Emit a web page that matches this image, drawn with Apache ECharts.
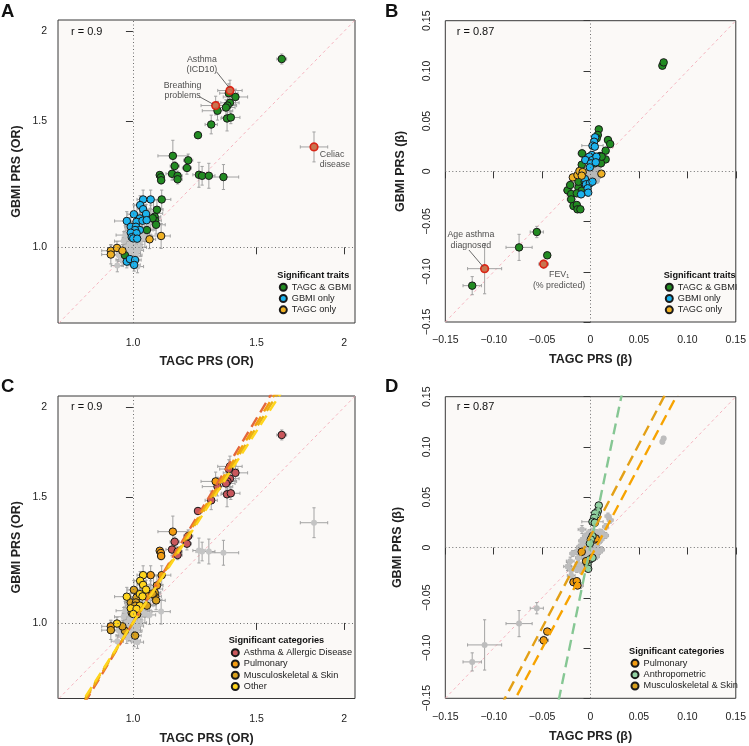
<!DOCTYPE html>
<html><head><meta charset="utf-8">
<script src="https://cdn.jsdelivr.net/npm/echarts@6/dist/echarts.min.js"></script>
<style>html,body{margin:0;padding:0;background:#fff}#c{width:749px;height:746px}</style>
</head><body><div id="c"></div>
<script>
const FONT = '"Liberation Sans", Arial, Helvetica, sans-serif';

// ---------- tick labels ----------
const orTicks = [1.0, 1.5, 2];
const orTickLabels = ['1.0', '1.5', '2'];
const betaTicks = [-0.15, -0.10, -0.05, 0, 0.05, 0.10, 0.15];
const betaTickLabels = ['\u22120.15', '\u22120.10', '\u22120.05', '0', '0.05', '0.10', '0.15'];

// ---------- legend names ----------
const traitNames = ['TAGC & GBMI', 'GBMI only', 'TAGC only'];
const catNamesC = ['Asthma & Allergic Disease', 'Pulmonary', 'Musculoskeletal & Skin', 'Other'];
const catNamesD = ['Pulmonary', 'Anthropometric', 'Musculoskeletal & Skin'];

// ---------- panels A / C : [TAGC OR, GBMI OR, CI half-width x (log), CI half-width y (log), category (1..4 of catNamesC, 0 none), highlighted]
const orBoth = [
  [1.63, 1.83, 0.016, 0.016, 1, 0],
  [1.375, 1.654, 0.04, 0.033, 1, 1],
  [1.312, 1.576, 0.048, 0.03, 2, 1],
  [1.812, 1.38, 0.045, 0.048, 0, 1],
  [1.37, 1.64, 0.03, 0.03, 1, 0],
  [1.40, 1.62, 0.04, 0.025, 1, 0],
  [1.375, 1.59, 0.03, 0.03, 1, 0],
  [1.364, 1.576, 0.03, 0.03, 1, 0],
  [1.357, 1.566, 0.03, 0.025, 1, 0],
  [1.32, 1.55, 0.05, 0.03, 1, 0],
  [1.362, 1.512, 0.02, 0.04, 1, 0],
  [1.379, 1.517, 0.03, 0.02, 1, 0],
  [1.293, 1.483, 0.02, 0.03, 1, 0],
  [1.238, 1.433, 0.01, 0.01, 1, 0],
  [1.14, 1.341, 0.049, 0.05, 2, 0],
  [1.147, 1.298, 0.015, 0.015, 1, 0],
  [1.199, 1.322, 0.015, 0.02, 1, 0],
  [1.194, 1.29, 0.015, 0.02, 1, 0],
  [1.137, 1.266, 0.02, 0.02, 1, 0],
  [1.158, 1.258, 0.015, 0.015, 1, 0],
  [1.158, 1.244, 0.015, 0.015, 1, 0],
  [1.092, 1.261, 0.01, 0.01, 2, 0],
  [1.096, 1.252, 0.01, 0.01, 2, 0],
  [1.097, 1.24, 0.012, 0.012, 2, 0],
  [1.242, 1.262, 0.02, 0.04, 0, 0],
  [1.255, 1.258, 0.02, 0.03, 0, 0],
  [1.283, 1.258, 0.02, 0.04, 0, 0],
  [1.346, 1.253, 0.05, 0.04, 0, 0],
  [1.099, 1.166, 0.03, 0.03, 2, 0],
  [1.082, 1.128, 0.02, 0.03, 2, 0],
  [1.074, 1.103, 0.02, 0.03, 3, 0],
  [1.076, 1.089, 0.02, 0.03, 2, 0],
  [1.067, 1.098, 0.02, 0.02, 3, 0],
  [1.079, 1.075, 0.03, 0.03, 3, 0],
  [1.047, 1.057, 0.02, 0.03, 3, 0],
  [0.974, 0.975, 0.02, 0.02, 3, 0]
];
const orGbmiOnly = [
  [1.034, 1.166, 0.02, 0.03, 4, 0],
  [1.06, 1.166, 0.03, 0.03, 2, 0],
  [1.024, 1.145, 0.02, 0.03, 4, 0],
  [1.034, 1.13, 0.02, 0.03, 4, 0],
  [1.003, 1.112, 0.02, 0.03, 3, 0],
  [1.044, 1.113, 0.02, 0.03, 4, 0],
  [0.98, 1.088, 0.04, 0.03, 4, 0],
  [1.023, 1.097, 0.02, 0.03, 4, 0],
  [1.012, 1.085, 0.02, 0.03, 3, 0],
  [1.032, 1.089, 0.02, 0.03, 4, 0],
  [1.046, 1.091, 0.02, 0.03, 2, 0],
  [0.993, 1.068, 0.02, 0.03, 3, 0],
  [1.01, 1.068, 0.02, 0.03, 3, 0],
  [1.023, 1.057, 0.02, 0.03, 4, 0],
  [1.007, 1.057, 0.02, 0.03, 3, 0],
  [0.993, 1.048, 0.02, 0.03, 4, 0],
  [1.012, 1.046, 0.02, 0.03, 4, 0],
  [0.996, 1.033, 0.02, 0.03, 3, 0],
  [1.001, 1.029, 0.02, 0.03, 4, 0],
  [1.014, 1.028, 0.02, 0.03, 3, 0],
  [0.98, 0.955, 0.02, 0.02, 0, 0],
  [0.99, 0.963, 0.02, 0.02, 0, 0],
  [1.007, 0.96, 0.02, 0.02, 3, 0],
  [1.004, 0.945, 0.02, 0.02, 0, 0]
];
const orTagcOnly = [
  [0.93, 0.989, 0.03, 0.02, 2, 0],
  [0.949, 0.998, 0.02, 0.02, 4, 0],
  [0.966, 0.989, 0.02, 0.02, 3, 0],
  [0.93, 0.977, 0.03, 0.03, 3, 0],
  [1.056, 1.026, 0.02, 0.03, 0, 0],
  [1.097, 1.037, 0.03, 0.04, 0, 0]
];
const orNotSig = [
  [0.97, 1.02, 0.03, 0.03, 0, 0], [0.98, 1.00, 0.02, 0.03, 0, 0], [0.99, 1.01, 0.02, 0.02, 0, 0],
  [1.00, 0.99, 0.02, 0.03, 0, 0], [1.01, 1.00, 0.02, 0.02, 0, 0], [1.02, 1.02, 0.03, 0.03, 0, 0],
  [0.985, 0.985, 0.02, 0.02, 0, 0], [0.995, 0.97, 0.02, 0.03, 0, 0], [1.005, 0.98, 0.02, 0.02, 0, 0],
  [1.015, 0.99, 0.02, 0.03, 0, 0], [0.975, 1.04, 0.03, 0.03, 0, 0], [0.99, 1.05, 0.02, 0.03, 0, 0],
  [1.03, 1.04, 0.03, 0.03, 0, 0], [1.04, 1.06, 0.03, 0.04, 0, 0], [1.05, 1.08, 0.03, 0.04, 0, 0],
  [0.965, 0.96, 0.02, 0.02, 0, 0], [0.955, 0.975, 0.02, 0.02, 0, 0], [0.95, 0.943, 0.02, 0.02, 0, 0],
  [1.025, 1.0, 0.02, 0.03, 0, 0], [1.0, 1.02, 0.02, 0.02, 0, 0], [0.985, 1.03, 0.02, 0.03, 0, 0],
  [1.06, 1.1, 0.03, 0.04, 0, 0], [1.07, 1.115, 0.03, 0.04, 0, 0], [1.02, 1.08, 0.03, 0.03, 0, 0],
  [0.995, 1.0, 0.02, 0.02, 0, 0], [1.01, 0.975, 0.02, 0.02, 0, 0], [0.975, 0.995, 0.02, 0.02, 0, 0],
  [1.04, 1.03, 0.02, 0.03, 0, 0], [1.00, 0.96, 0.02, 0.02, 0, 0], [1.015, 0.94, 0.02, 0.02, 0, 0]
];

// ---------- panels B / D : [TAGC beta, GBMI beta, half-width x, half-width y, category (1..3 of catNamesD, 0 none), highlighted]
const betaBoth = [
  [0.0742, 0.1052, 0.002, 0.002, 0, 0],
  [0.0755, 0.1085, 0.002, 0.002, 0, 0],
  [-0.0555, -0.0604, 0.0068, 0.0056, 0, 0],
  [-0.0738, -0.0757, 0.0135, 0.013, 0, 0],
  [-0.0447, -0.0836, 0.003, 0.003, 1, 0],
  [-0.1222, -0.1138, 0.0095, 0.009, 0, 0],
  [-0.1094, -0.0969, 0.0176, 0.025, 0, 1],
  [-0.0484, -0.0923, 0.005, 0.004, 1, 1],
  [0.0085, 0.0418, 0.002, 0.003, 2, 0],
  [0.0075, 0.0362, 0.002, 0.003, 2, 0],
  [0.0064, 0.0329, 0.002, 0.003, 2, 0],
  [0.018, 0.0312, 0.003, 0.003, 0, 0],
  [0.0203, 0.0272, 0.003, 0.003, 0, 0],
  [0.0156, 0.0206, 0.003, 0.003, 0, 0],
  [0.0156, 0.0119, 0.003, 0.003, 0, 0],
  [0.0108, 0.008, 0.003, 0.003, 0, 0],
  [0.0098, 0.0153, 0.003, 0.003, 0, 0],
  [-0.0088, 0.0179, 0.004, 0.004, 0, 0],
  [-0.0091, 0.0066, 0.003, 0.003, 0, 0],
  [0.0044, 0.008, 0.002, 0.002, 1, 0],
  [0.0115, 0.0146, 0.003, 0.003, 0, 0],
  [-0.0237, -0.0189, 0.004, 0.004, 0, 0],
  [-0.021, -0.0136, 0.004, 0.004, 0, 0],
  [-0.02, -0.0226, 0.004, 0.004, 0, 0],
  [-0.02, -0.0279, 0.004, 0.004, 0, 0],
  [-0.0176, -0.0345, 0.003, 0.003, 1, 0],
  [-0.0142, -0.0335, 0.003, 0.003, 1, 0],
  [-0.0135, -0.0378, 0.003, 0.003, 1, 0],
  [-0.0105, -0.0378, 0.003, 0.003, 0, 0],
  [-0.0125, -0.0163, 0.003, 0.003, 0, 0],
  [-0.0125, -0.0103, 0.003, 0.003, 0, 0],
  [-0.0061, -0.0103, 0.003, 0.003, 0, 0],
  [-0.0047, -0.0136, 0.003, 0.003, 3, 0],
  [-0.0091, -0.0193, 0.003, 0.003, 0, 0],
  [-0.0142, -0.0219, 0.003, 0.003, 0, 0]
];
const betaGbmiOnly = [
  [0.0047, 0.0339, 0.002, 0.004, 2, 0],
  [0.0037, 0.0295, 0.002, 0.003, 2, 0],
  [0.002, 0.0256, 0.011, 0.003, 2, 0],
  [0.0044, 0.0246, 0.002, 0.003, 2, 0],
  [0.0014, 0.0163, 0.003, 0.003, 0, 0],
  [-0.0014, 0.0146, 0.003, 0.003, 0, 0],
  [-0.0054, 0.0113, 0.003, 0.003, 0, 0],
  [0.002, 0.0113, 0.003, 0.003, 2, 0],
  [0.0061, 0.0146, 0.003, 0.003, 0, 0],
  [0.0003, 0.008, 0.003, 0.003, 2, 0],
  [-0.0007, 0.004, 0.003, 0.003, 2, 0],
  [0.0054, 0.009, 0.003, 0.003, 1, 0],
  [-0.0058, -0.0076, 0.003, 0.003, 0, 0],
  [-0.0047, -0.0129, 0.003, 0.003, 0, 0],
  [-0.0007, -0.0119, 0.003, 0.003, 2, 0],
  [0.002, -0.0103, 0.003, 0.003, 2, 0],
  [-0.003, -0.0169, 0.003, 0.003, 2, 0],
  [-0.0098, -0.0229, 0.003, 0.003, 0, 0],
  [-0.0024, -0.0212, 0.003, 0.003, 2, 0]
];
const betaTagcOnly = [
  [-0.0183, -0.006, 0.003, 0.003, 0, 0],
  [-0.0135, -0.0037, 0.003, 0.003, 0, 0],
  [-0.0115, 0.0003, 0.003, 0.003, 0, 0],
  [-0.0081, -0.0007, 0.003, 0.003, 0, 0],
  [-0.0091, -0.0043, 0.003, 0.003, 1, 0],
  [0.0112, -0.0023, 0.003, 0.003, 0, 0]
];
const betaNotSig = [
  [-0.006, 0.004, 0.003, 0.003, 0, 0], [-0.004, 0.006, 0.003, 0.003, 0, 0], [-0.002, 0.002, 0.003, 0.003, 0, 0],
  [0, 0, 0.003, 0.003, 0, 0], [0.002, -0.002, 0.003, 0.003, 0, 0], [0.004, 0.001, 0.003, 0.003, 0, 0],
  [-0.003, -0.004, 0.003, 0.003, 0, 0], [0.001, 0.006, 0.003, 0.003, 0, 0], [0.003, 0.004, 0.003, 0.003, 0, 0],
  [-0.001, -0.006, 0.003, 0.003, 0, 0], [0.005, -0.005, 0.003, 0.003, 0, 0], [-0.005, -0.001, 0.003, 0.003, 0, 0],
  [0.006, 0.003, 0.003, 0.003, 0, 0], [-0.007, 0.008, 0.003, 0.003, 0, 0], [0, 0.01, 0.003, 0.003, 0, 0],
  [0.003, -0.008, 0.003, 0.003, 0, 0], [-0.002, -0.009, 0.003, 0.003, 0, 0], [0.007, -0.001, 0.003, 0.003, 0, 0],
  [-0.008, -0.003, 0.003, 0.003, 0, 0], [0.001, 0.002, 0.003, 0.003, 0, 0], [-0.004, 0, 0.003, 0.003, 0, 0],
  [0.002, 0.008, 0.003, 0.003, 0, 0], [0.004, -0.003, 0.003, 0.003, 0, 0], [-0.006, -0.007, 0.003, 0.003, 0, 0],
  [0.008, 0.005, 0.003, 0.003, 0, 0], [-0.003, 0.011, 0.003, 0.003, 0, 0], [0.0045, 0.012, 0.003, 0.003, 0, 0],
  [-0.001, 0.0135, 0.003, 0.003, 0, 0], [0.006, -0.009, 0.003, 0.003, 0, 0], [-0.009, 0.002, 0.003, 0.003, 0, 0],
  [0.009, -0.004, 0.003, 0.003, 0, 0], [-0.01, -0.005, 0.003, 0.003, 0, 0]
];

// ---------- per-category fitted lines: [slope, intercept] (C on log-OR scale, D on beta scale)
const fitC = [[1.62, 0], [1.58, 0], [1.55, 0], [1.52, 0]];
const fitD = [[1.808, -0.0099], [4.67, 0.0017], [1.826, 0.0114]];

// ---------- correlations ----------
const rOR = 'r = 0.9';
const rBeta = 'r = 0.87';

// ---------- annotations: [text, x, y, align]; leaders: [[x1,y1],[x2,y2]]
const annA = [['Asthma\n(ICD10)', 1.254, 1.797, 'center'], ['Breathing\nproblems', 1.177, 1.652, 'center'], ['Celiac\ndisease', 1.847, 1.324, 'left']];
const leadA = [[[1.316, 1.756], [1.371, 1.67]], [[1.246, 1.62], [1.301, 1.583]]];
const annB = [['Age asthma\ndiagnosed', -0.1236, -0.0684, 'center'], ['FEV\u2081\n(% predicted)', -0.0325, -0.1082, 'center']];
const leadB = [[[-0.1256, -0.0783], [-0.111, -0.0949]]];

// ================= styling / layout =================
const GREEN = '#228b22', BLUE = '#1cb3ee', ORANGE = '#efb124', GRAY = '#c4c4c4', ERR = '#a3a3a3';
const catColC = ['#c9575c', '#f39c12', '#d8a01c', '#ffd51c'];
const fitColC = ['#e4683c', '#f59d10', '#e8b015', '#ffd51c'];
const catColD = ['#f39c12', '#93d2a3', '#d8a01c'];
const fitColD = ['#f7a300', '#86c794', '#e3a016'];

const LX = [-0.246, 0.729], LY = [-0.243, 0.7295];   // log-OR ranges
const BX = [-0.15, 0.15], BY = [-0.15, 0.15];

const grids = [
  {left: 58, top: 20, width: 297, height: 303},
  {left: 445.3, top: 20.7, width: 295.4, height: 301.3},
  {left: 58, top: 396, width: 297, height: 303},
  {left: 445.3, top: 396.7, width: 295.4, height: 301.6}
].map(g => Object.assign(g, {show: true, borderColor: '#383838', borderWidth: 1, backgroundColor: '#fbf9f7'}));

const lnTicks = orTicks.map(Math.log);
function fmt(vals, labels) {
  return v => { const i = vals.findIndex(a => Math.abs(a - v) < 1e-9); return i < 0 ? '' : labels[i]; };
}
const txt = {fontFamily: FONT, color: '#222'};

function xAx(gi, isOR, labelMargin, nameGap) {
  const vals = isOR ? lnTicks : betaTicks;
  return {
    type: 'value', gridIndex: gi, min: isOR ? LX[0] : BX[0], max: isOR ? LX[1] : BX[1],
    axisLine: {show: false}, splitLine: {show: false},
    axisTick: {show: true, length: 7, customValues: vals, lineStyle: {color: '#383838'}},
    axisLabel: Object.assign({customValues: vals, formatter: fmt(vals, isOR ? orTickLabels : betaTickLabels), margin: labelMargin, fontSize: 10.5, hideOverlap: false}, txt),
    name: isOR ? 'TAGC PRS (OR)' : 'TAGC PRS (\u03b2)', nameLocation: 'middle', nameGap: nameGap,
    nameTextStyle: Object.assign({fontWeight: 'bold', fontSize: 12.5}, txt)
  };
}
function yAx(gi, isOR, labelMargin, nameGap) {
  const vals = isOR ? lnTicks : betaTicks;
  return {
    type: 'value', gridIndex: gi, min: isOR ? LY[0] : BY[0], max: isOR ? LY[1] : BY[1],
    axisLine: {show: false}, splitLine: {show: false},
    axisTick: {show: true, length: 7, customValues: vals, lineStyle: {color: '#383838'}},
    axisLabel: Object.assign({customValues: vals, formatter: fmt(vals, isOR ? orTickLabels : betaTickLabels), margin: labelMargin, fontSize: 10.5, rotate: isOR ? 0 : 90, hideOverlap: false}, txt),
    name: isOR ? 'GBMI PRS (OR)' : 'GBMI PRS (\u03b2)', nameLocation: 'middle', nameGap: nameGap,
    nameTextStyle: Object.assign({fontWeight: 'bold', fontSize: 12.5}, txt)
  };
}

function errRender(params, api) {
  const x = api.value(0), y = api.value(1), ex = api.value(2), ey = api.value(3);
  const l = api.coord([x - ex, y]), r = api.coord([x + ex, y]);
  const b = api.coord([x, y - ey]), t = api.coord([x, y + ey]);
  const c = 1.6;
  const st = {stroke: ERR, lineWidth: 1, fill: null};
  const L = (x1, y1, x2, y2) => ({type: 'line', shape: {x1, y1, x2, y2}, style: st});
  return {type: 'group', children: [
    L(l[0], l[1], r[0], r[1]), L(l[0], l[1] - c, l[0], l[1] + c), L(r[0], r[1] - c, r[0], r[1] + c),
    L(b[0], b[1], t[0], t[1]), L(b[0] - c, b[1], b[0] + c, b[1]), L(t[0] - c, t[1], t[0] + c, t[1])
  ]};
}

const toLn = r => [Math.log(r[0]), Math.log(r[1]), r[2], r[3]];
const toB = r => [r[0], r[1], r[2], r[3]];
const allOR = orBoth.concat(orGbmiOnly, orTagcOnly, orNotSig);
const allB = betaBoth.concat(betaGbmiOnly, betaTagcOnly, betaNotSig);

function baseSeries(gi, xr, yr) {
  return {
    type: 'line', xAxisIndex: gi, yAxisIndex: gi, silent: true, symbol: 'none', z: 1,
    data: [[Math.max(xr[0], yr[0]), Math.max(xr[0], yr[0])], [Math.min(xr[1], yr[1]), Math.min(xr[1], yr[1])]],
    lineStyle: {color: '#f5b4bf', width: 1, type: [3, 3]},
    markLine: {silent: true, symbol: 'none', label: {show: false}, animation: false,
      lineStyle: {type: [1, 2.5], color: '#6e6e6e', width: 1}, data: [{xAxis: 0}, {yAxis: 0}]}
  };
}
function errSeries(gi, rows, conv) {
  return {type: 'custom', xAxisIndex: gi, yAxisIndex: gi, silent: true, clip: true, z: 2,
    renderItem: errRender, data: rows.map(conv)};
}
function ptSeries(gi, name, rows, conv, color, size, border, z) {
  return {type: 'scatter', name, xAxisIndex: gi, yAxisIndex: gi, silent: true, z: z || 4,
    symbol: 'circle', symbolSize: size || 7.5, clip: true,
    itemStyle: {color, opacity: 1, borderColor: border ? '#1a1a1a' : color, borderWidth: border ? 1 : 0},
    data: rows.map(r => conv(r).slice(0, 2))};
}
function fitSeries(gi, fit, xr, color) {
  const [s, b] = fit;
  return {type: 'line', xAxisIndex: gi, yAxisIndex: gi, silent: true, symbol: 'none', z: 6,
    data: [[xr[0], s * xr[0] + b], [xr[1], s * xr[1] + b]],
    lineStyle: {color, width: 2.4, type: [11, 6]}};
}
function annSeries(gi, anns, conv) {
  return anns.map(a => ({
    type: 'scatter', xAxisIndex: gi, yAxisIndex: gi, silent: true, z: 7, symbolSize: 1,
    itemStyle: {color: 'transparent'},
    label: Object.assign({show: true, position: 'inside', formatter: a[0], align: a[3], verticalAlign: 'middle',
      fontSize: 8.8, lineHeight: 10.3}, txt),
    data: [conv([a[1], a[2]])]
  }));
}
function leadSeries(gi, leads, conv) {
  return leads.map(l => ({type: 'line', xAxisIndex: gi, yAxisIndex: gi, silent: true, symbol: 'none', z: 7,
    data: l.map(conv), lineStyle: {color: '#444', width: 0.8}}));
}
const lnPt = p => [Math.log(p[0]), Math.log(p[1])];
const idPt = p => [p[0], p[1]];

const series = [];
// ---- A
series.push(baseSeries(0, LX, LY), errSeries(0, allOR, toLn),
  ptSeries(0, 'ns', orNotSig, toLn, GRAY, 6, false, 3),
  ptSeries(0, traitNames[0], orBoth, toLn, GREEN, 7.5, true),
  ptSeries(0, traitNames[1], orGbmiOnly, toLn, BLUE, 7.5, true),
  ptSeries(0, traitNames[2], orTagcOnly, toLn, ORANGE, 7.5, true),
  Object.assign(ptSeries(0, 'hlA', orBoth.filter(r => r[5]), toLn, '#f26a55', 7.5, true, 5), {itemStyle: {color: '#f0705c', borderColor: '#ee1c0c', borderWidth: 1.8}}),
  ...leadSeries(0, leadA, lnPt), ...annSeries(0, annA, lnPt));
// ---- B
series.push(baseSeries(1, BX, BY), errSeries(1, allB, toB),
  ptSeries(1, 'nsB', betaNotSig, toB, '#b8b8b8', 7, false, 3),
  ptSeries(1, traitNames[0], betaBoth, toB, GREEN, 7.5, true),
  ptSeries(1, traitNames[1], betaGbmiOnly, toB, BLUE, 7.5, true),
  ptSeries(1, traitNames[2], betaTagcOnly, toB, ORANGE, 7.5, true),
  Object.assign(ptSeries(1, 'hlB', betaBoth.filter(r => r[5]), toB, '#f26a55', 7.5, true, 5), {itemStyle: {color: '#f0705c', borderColor: '#ee1c0c', borderWidth: 1.8}}),
  ...leadSeries(1, leadB, idPt), ...annSeries(1, annB, idPt));
// ---- C
series.push(baseSeries(2, LX, LY), errSeries(2, allOR, toLn),
  ptSeries(2, 'nsC', allOR.filter(r => r[4] === 0), toLn, GRAY, 6, false, 3));
catNamesC.forEach((n, i) => series.push(ptSeries(2, n, allOR.filter(r => r[4] === i + 1), toLn, catColC[i], 7.5, true)));
fitC.forEach((f, i) => series.push(fitSeries(2, f, LX, fitColC[i])));
// ---- D
series.push(baseSeries(3, BX, BY), errSeries(3, allB, toB),
  ptSeries(3, 'nsD', allB.filter(r => r[4] === 0), toB, '#bdbdbd', 6, false, 3));
catNamesD.forEach((n, i) => series.push(ptSeries(3, n, allB.filter(r => r[4] === i + 1), toB, catColD[i], 7.5, true)));
fitD.forEach((f, i) => series.push(fitSeries(3, f, BX, fitColD[i])));

function legendAt(names, left, top) {
  return {data: names, orient: 'vertical', left, top, itemWidth: 7, itemHeight: 7, itemGap: 0, icon: 'circle',
    selectedMode: false, padding: 0, textStyle: Object.assign({fontSize: 9.2, lineHeight: 11.3}, txt)};
}
function gText(text, x, y, size, bold) {
  return {type: 'text', x, y, silent: true, style: {text, fontSize: size, fontWeight: bold ? 'bold' : 'normal',
    fontFamily: FONT, fill: '#111', align: 'left', verticalAlign: 'middle'}};
}

const option = {
  animation: false,
  backgroundColor: '#ffffff',
  grid: grids,
  xAxis: [xAx(0, true, 15, 32), xAx(1, false, 13, 31.5), xAx(2, true, 15, 33.5), xAx(3, false, 13, 32)],
  yAxis: [yAx(0, true, 11, 35), yAx(1, false, 13, 38.5), yAx(2, true, 11, 35), yAx(3, false, 13, 41)],
  legend: [
    legendAt(traitNames, 278.8, 281.6),
    legendAt(traitNames, 664.8, 281.6),
    legendAt(catNamesC, 230.8, 647),
    legendAt(catNamesD, 630.5, 657.7)
  ],
  graphic: [
    gText('A', 1, 11.7, 18.5, true), gText('B', 385, 11.7, 18.5, true),
    gText('C', 1, 386.7, 18.5, true), gText('D', 385, 386.7, 18.5, true),
    gText(rOR, 71, 31.7, 11, false), gText(rBeta, 456.7, 31.7, 11, false),
    gText(rOR, 71, 407.3, 11, false), gText(rBeta, 456.7, 407.3, 11, false),
    gText('Significant traits', 277.3, 275.3, 9.2, true), gText('Significant traits', 663.7, 275.3, 9.2, true),
    gText('Significant categories', 228.7, 640, 9.2, true), gText('Significant categories', 629, 651.7, 9.2, true)
  ],
  series
};
const chart = echarts.init(document.getElementById('c'), null, {renderer: 'canvas'});
chart.setOption(option);
</script></body></html>
